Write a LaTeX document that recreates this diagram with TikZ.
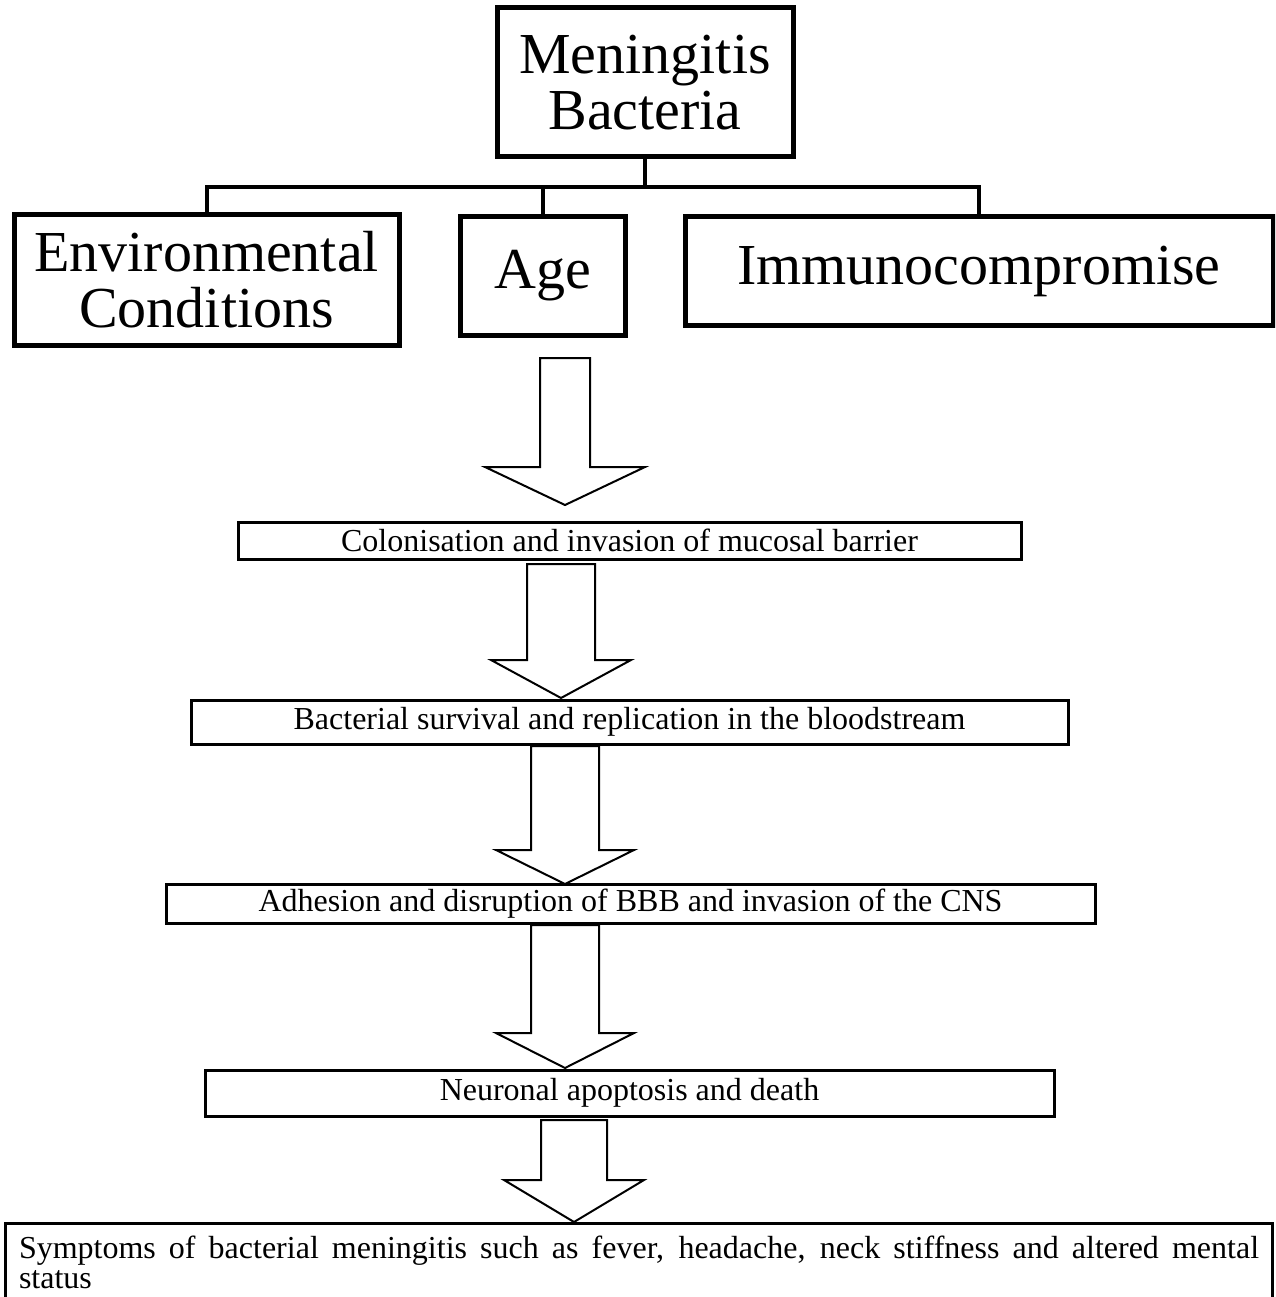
\documentclass[tikz,border=0pt]{standalone}
\usepackage{fontspec}
\setmainfont{Liberation Serif}
\usetikzlibrary{arrows}

\tikzset{
  bigbox/.style={draw, line width=5pt, inner sep=0pt, align=center,
    font=\fontsize{58}{56}\selectfont},
  stagebox/.style={draw, line width=3pt, inner sep=0pt, align=center,
    font=\fontsize{32}{36}\selectfont},
  link/.style={line width=4pt},
  fatarrow/.style={line width=2pt, fill=white, line join=miter}
}

\begin{document}
\begin{tikzpicture}[x=1pt,y=-1pt]
      \useasboundingbox (0,0) rectangle (1275,1297);
      \clip (0,0) rectangle (1275,1297);

      % top of the tree
      \node[bigbox, minimum width=296, minimum height=149] (menin) at (645,82.5)
        {Meningitis\\Bacteria};
      \node[bigbox, minimum width=385, minimum height=130] (env) at (206.5,280)
        {Environmental\\Conditions};
      \node[bigbox, minimum width=165, minimum height=118] (age) at (542.5,276)
        {Age};
      \node[bigbox, minimum width=588, minimum height=108] (immuno) at (979,271)
        {Immunocompromise};

      \coordinate (bar) at (645,187);
      \draw[link] (menin.south) -- (menin.south |- bar);
      \draw[link] (env.north) -- (env.north |- bar) -| (immuno.north);
      \draw[link] (age.north) -- (age.north |- bar);

      % stages
      \node[stagebox, minimum width=783, minimum height=37] (colon) at (629.5,540.5)
        {Colonisation and invasion of mucosal barrier};
      \node[stagebox, minimum width=877, minimum height=44] (blood) at (629.5,722)
        {Bacterial survival and replication in the bloodstream};
      \node[stagebox, minimum width=929, minimum height=39] (bbb) at (630.5,903.5)
        {Adhesion and disruption of BBB and invasion of the CNS};
      \node[stagebox, minimum width=849, minimum height=46] (neuro) at (629.5,1093)
        {Neuronal apoptosis and death};
      \node[stagebox, anchor=north west, minimum width=1267,
        text width=1240, align=justify, inner xsep=13.5pt, inner ysep=12pt,
        font=\fontsize{32}{30}\selectfont] (sympt) at (4,1222)
        {Symptoms of bacterial meningitis such as fever, headache, neck stiffness and altered mental\linebreak status};

      % block arrows
      \foreach \cx/\yt/\yh/\yb/\sw/\hw in
        {565/358/467/505/25/80, 561/564/660/698/34/70, 565/746/850/884/34/69,
         565/925/1033/1068/34/69, 574/1120/1180/1222/33/70}
      {
        \draw[fatarrow]
        ({\cx-\sw},\yt) -- ({\cx+\sw},\yt) -- ({\cx+\sw},\yh) -- ({\cx+\hw},\yh)
        -- (\cx,\yb) -- ({\cx-\hw},\yh) -- ({\cx-\sw},\yh) -- cycle;
      }

    \end{tikzpicture}
\end{document}
